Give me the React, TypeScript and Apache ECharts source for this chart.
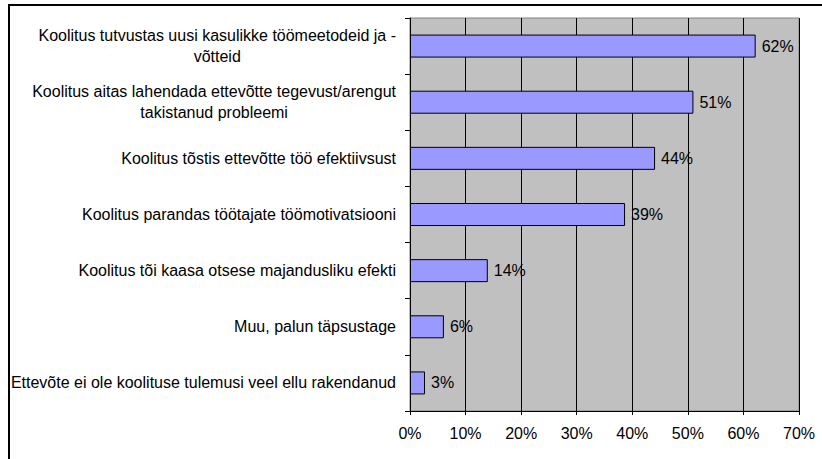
import React, { useEffect, useRef } from "react";
import * as echarts from "echarts";

const categories: string[] = [
  "Koolitus tutvustas uusi kasulikke töömeetodeid ja -\nvõtteid",
  "Koolitus aitas lahendada ettevõtte tegevust/arengut\ntakistanud probleemi",
  "Koolitus tõstis ettevõtte töö efektiivsust",
  "Koolitus parandas töötajate töömotivatsiooni",
  "Koolitus tõi kaasa otsese majandusliku efekti",
  "Muu, palun täpsustage",
  "Ettevõte ei ole koolituse tulemusi veel ellu rakendanud",
];
const values: number[] = [62.2, 51.0, 44.1, 38.7, 14.0, 6.1, 2.7];
const xTicks: number[] = [0, 10, 20, 30, 40, 50, 60, 70];

const FONT = "'Liberation Sans', Arial, sans-serif";

export default function App() {
  const ref = useRef<HTMLDivElement>(null);
  useEffect(() => {
    if (!ref.current) return;
    const chart = echarts.init(ref.current, undefined, { renderer: "svg" });
    chart.setOption({
      animation: false,
      backgroundColor: "#ffffff",
      textStyle: { fontFamily: FONT },
      grid: {
        left: 410,
        top: 18,
        right: 23,
        bottom: 48,
        containLabel: false,
        show: true,
        backgroundColor: "#C0C0C0",
        borderColor: "#808080",
        borderWidth: 1,
      },
      graphic: [
        {
          type: "rect",
          shape: { x: 9, y: 5, width: 900, height: 600 },
          style: { fill: "none", stroke: "#000000", lineWidth: 2 },
          silent: true,
          z: 100,
        },
      ],
      xAxis: {
        type: "value",
        min: xTicks[0],
        max: xTicks[xTicks.length - 1],
        interval: 10,
        axisLine: { show: true, lineStyle: { color: "#000000", width: 1 } },
        axisTick: { show: true, length: 4, lineStyle: { color: "#000000" } },
        splitLine: { show: true, lineStyle: { color: "#000000", width: 1 } },
        axisLabel: {
          formatter: (v: number) => v + "%",
          color: "#000000",
          fontSize: 16,
          fontFamily: FONT,
          margin: 14,
        },
      },
      yAxis: {
        type: "category",
        inverse: true,
        data: categories,
        axisLine: { show: true, onZero: false, lineStyle: { color: "#000000", width: 1 } },
        axisTick: { show: true, length: 5, lineStyle: { color: "#000000" } },
        splitLine: { show: false },
        axisLabel: {
          margin: 14,
          color: "#000000",
          fontSize: 16,
          fontFamily: FONT,
          lineHeight: 21,
          formatter: (v: string) =>
            v
              .split("\n")
              .map((l) => "{c|" + l + "}")
              .join("\n"),
          rich: {
            c: {
              align: "center",
              fontSize: 16,
              fontFamily: FONT,
              color: "#000000",
              lineHeight: 21,
            },
          },
        },
      },
      series: [
        {
          type: "bar",
          data: values,
          barWidth: 23,
          itemStyle: { color: "#9999FF", borderColor: "#000000", borderWidth: 1 },
          label: {
            show: true,
            position: "right",
            distance: 6,
            color: "#000000",
            fontSize: 16,
            fontFamily: FONT,
            formatter: (p: any) => Math.round(p.value) + "%",
          },
        },
      ],
    });
    return () => chart.dispose();
  }, []);
  return (
    <div
      ref={ref}
      style={{
        position: "fixed",
        left: 0,
        top: 0,
        width: 822,
        height: 459,
      }}
    />
  );
}
